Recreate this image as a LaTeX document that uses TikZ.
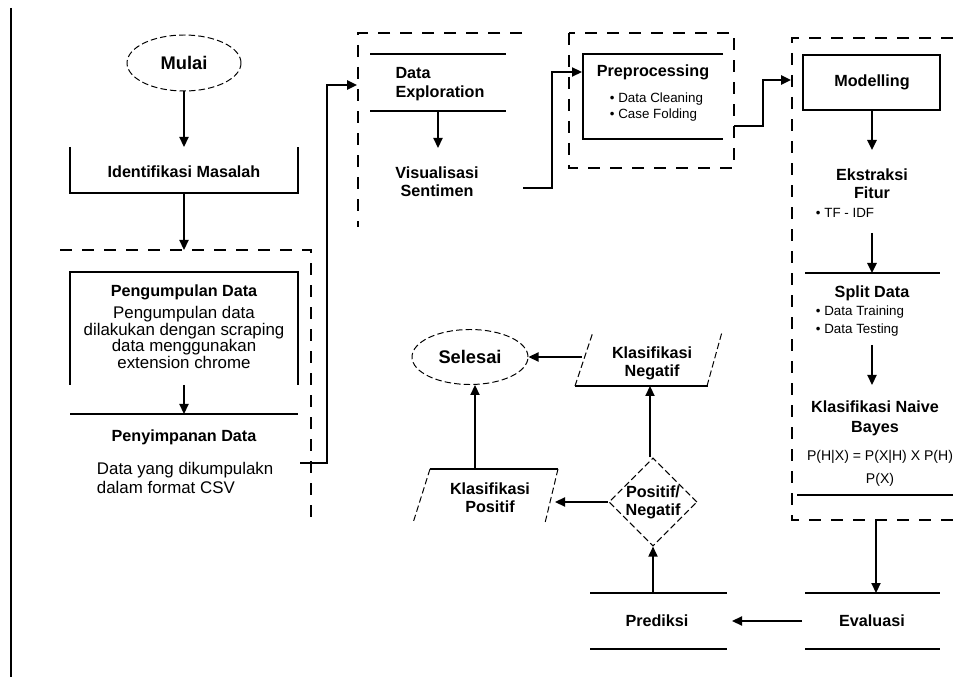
\documentclass[tikz,border=0pt]{standalone}
\usepackage{fontspec}
\setmainfont{Liberation Sans}
\usetikzlibrary{shapes.geometric,arrows.meta}

\tikzset{
  judul/.style={font=\bfseries\fontsize{11.5}{13}\selectfont, align=center},
  isi/.style={font=\fontsize{12}{11.7}\selectfont, align=center},
  poin/.style={font=\fontsize{9.5}{11.4}\selectfont, align=left},
  garis/.style={line width=0.9pt},
  tebal/.style={line width=1.6pt},
  panah/.style={line width=0.9pt, -{Triangle[length=2.5mm,width=2.3mm]}},
  putus/.style={line width=0.9pt, dash pattern=on 3mm off 2.5mm},
  putushalus/.style={line width=0.7pt, dash pattern=on 1.6mm off 0.8mm},
  terminal/.style={draw, ellipse, putushalus, inner sep=0pt,
    font=\bfseries\fontsize{13}{15}\selectfont},
}

\begin{document}
\begin{tikzpicture}[x=0.25mm,y=-0.25mm]
  \useasboundingbox (0,0) rectangle (953,677);
  \draw[line width=1.3pt] (11,8) -- (11,677);

  % kolom kiri
  \node[terminal, minimum width=28.5mm, minimum height=14mm] (mulai) at (184,63) {Mulai};
  \node[judul] (idm) at (184,172) {Identifikasi Masalah};
  \draw[garis] (70,147) -- (70,193) -- (298,193) -- (298,147);
  \coordinate (idm-atas) at (184,147);
  \coordinate (idm-bawah) at (184,193);

  \draw[putus] (60,250) -- (311,250) -- (311,527);
  \coordinate (grup1-atas) at (184,250);

  \draw[garis] (70,385) -- (70,272) -- (298,272) -- (298,385);
  \node[judul] (pd) at (184,292) {Pengumpulan Data};
  \node[isi] (pd-isi) at (184,337.5) {Pengumpulan data\\dilakukan dengan scraping\\data menggunakan\\extension chrome};
  \coordinate (pd-bawah) at (184,385);

  \draw[garis] (70,414) -- (298,414);
  \coordinate (ps-atas) at (184,414);
  \node[judul] (ps) at (184,437) {Penyimpanan Data};
  \node[isi, align=left, anchor=west, font=\fontsize{12}{13.5}\selectfont] (ps-isi) at (92,477.5) {Data yang dikumpulakn\\dalam format CSV};
  \coordinate (ps-kanan) at (300,463);

  % data exploration
  \draw[putus] (522,33) -- (358,33) -- (358,227);
  \draw[garis] (370,54) -- (506,54);
  \draw[garis] (370,111) -- (506,111);
  \node[judul, align=left] (de) at (440,84) {Data\\Exploration};
  \coordinate (de-kiri) at (357,85);
  \coordinate (de-bawah) at (438,111);
  \node[judul] (vs) at (437,182) {Visualisasi\\Sentimen};
  \coordinate (vs-atas) at (438,148);
  \coordinate (vs-kanan) at (523,188);

  % preprocessing
  \draw[putus] (569,33) rectangle (734,168);
  \draw[garis] (723,54) -- (583,54) -- (583,139) -- (723,139);
  \node[judul] (pre) at (653,72) {Preprocessing};
  \node[poin, anchor=west] (pre-isi) at (605,107) {\textbullet\ Data Cleaning\\\textbullet\ Case Folding};
  \coordinate (pre-kiri) at (582,72);
  \coordinate (pre-kanan) at (734,126);

  % modelling
  \draw[putus] (953,38) -- (792,38) -- (792,520) -- (953,520);
  \coordinate (grup4-bawah) at (876,520);
  \draw[garis] (803,55) rectangle (940,110);
  \node[judul] (mod) at (872,82) {Modelling};
  \coordinate (mod-kiri) at (791,80);
  \coordinate (mod-bawah) at (872,110);
  \node[judul] (ek) at (872,184) {Ekstraksi\\Fitur};
  \node[poin, anchor=west] (ek-isi) at (811,213) {\textbullet\ TF - IDF};
  \coordinate (ek-atas) at (872,150);
  \coordinate (ek-bawah) at (872,233);
  \draw[garis] (805,273) -- (940,273);
  \coordinate (sd-atas) at (872,273);
  \node[judul] (sd) at (872,293) {Split Data};
  \node[poin, anchor=west, font=\fontsize{9.5}{12.8}\selectfont] (sd-isi) at (811,321) {\textbullet\ Data Training\\\textbullet\ Data Testing};
  \coordinate (sd-bawah) at (872,345);
  \coordinate (nb-atas) at (872,385);
  \node[judul, font=\bfseries\fontsize{11.5}{14}\selectfont] (nb) at (875,418) {Klasifikasi Naive\\Bayes};
  \node[poin, align=center, font=\fontsize{10}{16}\selectfont] (nb-isi) at (880,468.5) {P(H|X) = P(X|H) X P(H)\\P(X)};
  \draw[garis] (797,495) -- (953,495);

  % evaluasi dan prediksi
  \draw[garis] (805,593) -- (940,593);
  \draw[garis] (805,649) -- (940,649);
  \node[judul] (ev) at (872,621) {Evaluasi};
  \coordinate (ev-atas) at (876,593);
  \coordinate (ev-kiri) at (802,621);
  \draw[garis] (590,593) -- (727,593);
  \draw[garis] (590,649) -- (727,649);
  \node[judul] (pr) at (657,621) {Prediksi};
  \coordinate (pr-kanan) at (732,621);
  \coordinate (pr-atas) at (653,593);

  \node[draw, diamond, putushalus, aspect=1, inner sep=0pt, minimum width=22mm, minimum height=21.5mm, judul] (pn) at (653,502) {Positif/\\Negatif};

  \draw[putushalus] (575,386) -- (593,332);
  \draw[putushalus] (707,386) -- (722,332);
  \draw[garis] (575,386) -- (708,386);
  \node[judul] (kn) at (652,363) {Klasifikasi\\Negatif};
  \coordinate (kn-bawah) at (650,386);
  \coordinate (kn-kiri) at (582,357);

  \draw[garis] (430,469) -- (558,469);
  \draw[putushalus] (430,469) -- (413,523);
  \draw[putushalus] (558,469) -- (545,523);
  \node[judul] (kp) at (490,498) {Klasifikasi\\Positif};
  \coordinate (kp-atas) at (475,469);
  \coordinate (kp-kanan) at (555,502);

  \node[terminal, minimum width=29mm, minimum height=13.75mm] (selesai) at (470,357) {Selesai};

  % panah
  \draw[panah] (mulai) -- (idm-atas);
  \draw[panah] (idm-bawah) -- (grup1-atas);
  \draw[panah] (pd-bawah) -- (ps-atas);
  \draw[panah, line width=1.4pt] (ps-kanan) -- ++(27,0) |- (de-kiri);
  \draw[panah] (de-bawah) -- (vs-atas);
  \draw[panah] (vs-kanan) -- ++(29,0) |- (pre-kiri);
  \draw[panah, line width=1.4pt] (pre-kanan) -- ++(29,0) |- (mod-kiri);
  \draw[panah, tebal] (mod-bawah) -- (ek-atas);
  \draw[panah, tebal] (ek-bawah) -- (sd-atas);
  \draw[panah] (sd-bawah) -- (nb-atas);
  \draw[panah] (grup4-bawah) -- (ev-atas);
  \draw[panah] (ev-kiri) -- (pr-kanan);
  \draw[panah] (pr-atas) -- (pn.south);
  \draw[panah] (pn.north -| kn-bawah) -- (kn-bawah);
  \draw[panah] (kn-kiri) -- (selesai.east);
  \draw[panah] (pn.west) -- (kp-kanan);
  \draw[panah] (kp-atas) -- (kp-atas |- selesai.south);
\end{tikzpicture}
\end{document}
